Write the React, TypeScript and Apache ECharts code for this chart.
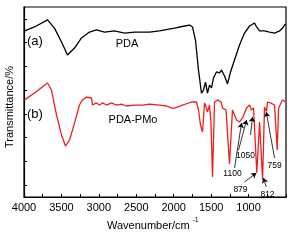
import React, { useEffect, useRef } from "react";
import * as echarts from "echarts";

// PDA (a) spectrum: wavenumber (cm-1) and transmittance (arb., offset)
const wnA = [3993, 3860, 3686, 3593, 3499, 3419, 3325, 3232, 3125, 3031, 2925, 2791, 2657, 2524, 2323, 2190, 1989, 1856, 1789, 1749, 1709, 1669, 1629, 1602, 1575, 1549, 1522, 1495, 1469, 1429, 1388, 1362, 1321, 1281, 1241, 1188, 1121, 1054, 987, 920, 893, 853, 787, 720, 653, 586, 546, 520, 506];
const tA = [87.4, 89.5, 93.2, 88.9, 81.6, 74.7, 78.4, 83.7, 86.8, 87.9, 86.8, 87.4, 86.3, 86.8, 86.8, 87.4, 88.9, 90.0, 90.5, 89.5, 82.6, 66.8, 54.7, 56.3, 60.5, 54.7, 58.9, 57.4, 62.6, 65.8, 65.3, 66.8, 63.7, 59.5, 65.8, 72.1, 80, 86.3, 90, 91.6, 89.5, 87.4, 87.4, 86.8, 86.3, 87.4, 88.9, 90.5, 91.1];

// PDA-PMo (b) spectrum
const wnB = [3993, 3860, 3686, 3633, 3566, 3499, 3446, 3392, 3325, 3259, 3219, 3165, 3098, 3085, 3031, 2991, 2951, 2898, 2831, 2764, 2697, 2631, 2524, 2417, 2323, 2190, 2096, 2029, 1989, 1883, 1762, 1696, 1669, 1642, 1615, 1589, 1575, 1549, 1522, 1502, 1482, 1455, 1415, 1368, 1348, 1301, 1255, 1215, 1161, 1121, 1081, 1027, 987, 961, 934, 890, 853, 813, 787, 760, 747, 707, 653, 617, 599, 546, 506];
const tB = [51.1, 54.7, 60, 56.3, 43.2, 32.6, 26.8, 30, 38.9, 48.4, 51.1, 52.6, 52.1, 48.4, 49.5, 48.4, 49.5, 48.4, 49.5, 48.4, 48.9, 47.9, 48.4, 48.4, 48.9, 48.4, 47.9, 46.8, 46.8, 48.4, 50, 50, 45.8, 37.9, 34.2, 49.5, 48.4, 44.7, 48.4, 38.9, 10.5, 50, 51.1, 50, 46.8, 45.8, 17.4, 45.8, 40.5, 39.5, 41.6, 46.8, 48.4, 45.8, 46.8, 12.6, 39.5, 8.9, 47.4, 45, 50, 49.5, 48.4, 24.7, 46.8, 51.1, 50];

// Peak annotations
const peakLabels = ["1100", "1050", "879", "812", "759"];
const labelPos = [[1215, 12.6], [1041, 22.1], [1108, 4.2], [747, 1.6], [653, 16.8]];
const arrowFrom = [[1187, 15.3], [1134, 24.7], [974, 32.6], [1054, 7.9], [764, 5.3], [653, 20.5]];
const arrowTo = [[1094, 38.9], [1027, 40.5], [947, 42.1], [898, 12.6], [800, 10.0], [764, 44.7]];

const yTicks = [6.25, 18.75, 31.25, 43.75, 56.25, 68.75, 81.25, 93.75];
const xLabels = [1000, 1500, 2000, 2500, 3000, 3500, 4000];

const FONT = "'Liberation Sans', Arial, sans-serif";

export default function App() {
  const ref = useRef<HTMLDivElement>(null);
  useEffect(() => {
    if (!ref.current) return;
    const chart = echarts.init(ref.current, undefined, { renderer: "svg" });
    const dataA = wnA.map((w, i) => [w, tA[i]]);
    const dataB = wnB.map((w, i) => [w, tB[i]]);
    chart.setOption({
      animation: false,
      textStyle: { fontFamily: FONT },
      grid: {
        left: 24, top: 7, width: 262, height: 190,
        show: true, borderColor: "#000", borderWidth: 1.2, backgroundColor: "transparent",
      },
      xAxis: {
        type: "value", min: 500, max: 4000, interval: 250, inverse: true,
        splitLine: { show: false },
        axisLine: { lineStyle: { color: "#000", width: 1.2 } },
        axisTick: { inside: true, length: 3, lineStyle: { color: "#000" } },
        axisLabel: {
          color: "#000", fontSize: 11, fontFamily: FONT, margin: 4,
          formatter: (v: number) => (xLabels.includes(v) ? String(v) : ""),
        },
      },
      yAxis: {
        type: "value", min: 0, max: 100,
        splitLine: { show: false },
        axisLine: { show: true, lineStyle: { color: "#000", width: 1.2 } },
        axisTick: { inside: true, length: 3, customValues: yTicks, lineStyle: { color: "#000" } },
        axisLabel: { show: false },
      },
      series: [
        {
          type: "line", data: dataA, showSymbol: false, symbol: "none",
          lineStyle: { color: "#000", width: 1.3 },
        },
        {
          type: "line", data: dataB, showSymbol: false, symbol: "none",
          lineStyle: { color: "#f01e1e", width: 1.3 },
          markLine: {
            silent: true, symbol: ["none", "arrow"], symbolSize: 5,
            lineStyle: { color: "#000", width: 0.8, type: "solid" },
            label: { show: false },
            data: arrowFrom.map((f, i) => [{ coord: f }, { coord: arrowTo[i] }]),
          },
          markPoint: {
            silent: true, symbol: "rect", symbolSize: 1,
            itemStyle: { color: "transparent" },
            label: {
              show: true, position: "inside", color: "#000", fontSize: 8.5, fontFamily: FONT,
              formatter: (p: any) => p.name,
            },
            data: peakLabels.map((n, i) => ({ name: n, coord: labelPos[i] })),
          },
        },
      ],
      graphic: [
        { type: "text", x: 27, y: 40, style: { text: "(a)", fontSize: 13, fontFamily: FONT, fill: "#000", verticalAlign: "middle" } },
        { type: "text", x: 27, y: 113, style: { text: "(b)", fontSize: 13, fontFamily: FONT, fill: "#000", verticalAlign: "middle" } },
        { type: "text", x: 127, y: 43, style: { text: "PDA", fontSize: 11, fontFamily: FONT, fill: "#000", align: "center", verticalAlign: "middle" } },
        { type: "text", x: 133, y: 119, style: { text: "PDA-PMo", fontSize: 11, fontFamily: FONT, fill: "#000", align: "center", verticalAlign: "middle" } },
        { type: "text", x: 8.5, y: 107, rotation: Math.PI / 2, style: { text: "Transmittance/%", fontSize: 11, fontFamily: FONT, fill: "#000", align: "center", verticalAlign: "middle" } },
        { type: "text", x: 107, y: 225, style: { text: "Wavenumber/cm", fontSize: 11, fontFamily: FONT, fill: "#000", verticalAlign: "middle" } },
        { type: "text", x: 192.5, y: 219, style: { text: "-1", fontSize: 7, fontFamily: FONT, fill: "#000", verticalAlign: "middle" } },
      ],
    });
    return () => chart.dispose();
  }, []);
  return <div ref={ref} style={{ position: "fixed", left: 0, top: 0, width: 294, height: 240 }} />;
}
